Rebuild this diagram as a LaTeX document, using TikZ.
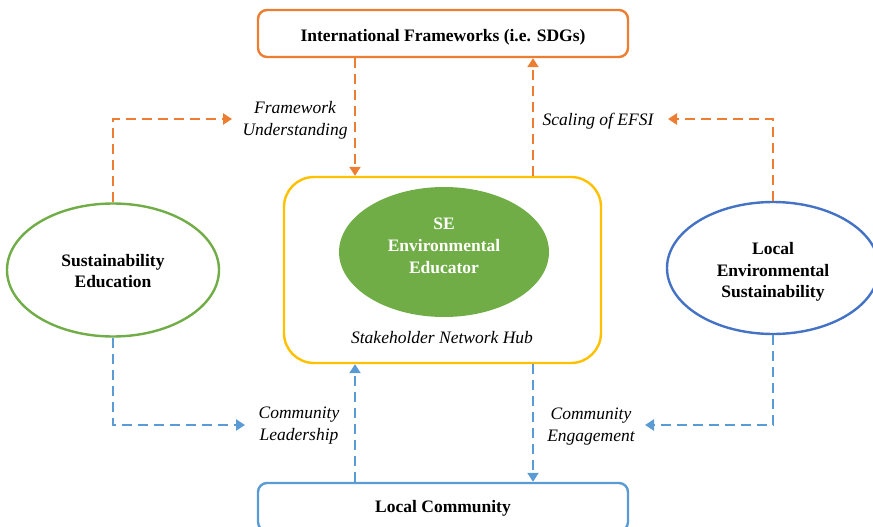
\documentclass[tikz,border=0pt]{standalone}
\usepackage{fontspec}
\setmainfont{Liberation Serif}
\usetikzlibrary{shapes.geometric,arrows.meta,calc}
\definecolor{orng}{HTML}{ED7D31}
\definecolor{ylw}{HTML}{FFC000}
\definecolor{grn}{HTML}{70AD47}
\definecolor{dblu}{HTML}{4472C4}
\definecolor{lblu}{HTML}{5B9BD5}
\tikzset{
  fbox/.style={draw, line width=2.4pt, rounded corners=9pt, fill=white},
  ell/.style={ellipse, draw, line width=2.4pt},
  btxt/.style={font=\fontsize{17.5}{21.5}\selectfont\bfseries, align=center},
  lab/.style={font=\fontsize{17.5}{22}\selectfont\itshape, align=center},
  darr/.style={line width=2.5pt, dash pattern=on 10pt off 6pt, -{Triangle[width=11pt,length=9pt]}},
}
\begin{document}
\begin{tikzpicture}[x=1pt,y=-1pt]
\useasboundingbox (0,0) rectangle (873,527);
% boxes
\node[fbox, draw=orng, minimum width=370, minimum height=47] (tb) at (443,33.5) {};
\node[btxt] (tbt) at (443,37) {International Frameworks (i.e. SDGs)};
\node[fbox, draw=lblu, minimum width=370, minimum height=48] (bb) at (443,507) {};
\node[btxt] (bbt) at (443,508.5) {Local Community};
\node[draw=ylw, line width=2.4pt, rounded corners=30pt, minimum width=317, minimum height=186] (hub) at (442.5,270) {};
\node[ellipse, fill=grn, minimum width=210, minimum height=130] (se) at (444,252) {};
\node[btxt, text=white, font=\fontsize{17.5}{22}\selectfont\bfseries] (set) at (444,246) {SE\\Environmental\\Educator};
\node[lab] (hubl) at (442,338) {Stakeholder Network Hub};
\node[ell, draw=grn, minimum width=212, minimum height=133] (le) at (113,270) {};
\node[btxt] (let) at (113,271) {Sustainability\\Education};
\node[ell, draw=dblu, minimum width=212, minimum height=132] (re) at (773,268) {};
\node[btxt] (ret) at (773,272) {Local\\Environmental\\Sustainability};
% labels
\node[lab] (fu) at (295,120) {Framework\\Understanding};
\node[lab] (sc) at (598,121) {Scaling of EFSI};
\node[lab] (cl) at (299,426) {Community\\Leadership};
\node[lab] (ce) at (591,427) {Community\\Engagement};
% coordinates
\coordinate (xa) at (355,0);
\coordinate (xb) at (533,0);
\coordinate (fuend) at (232,119);
\coordinate (scend) at (668,119);
\coordinate (clend) at (245,425);
\coordinate (ceend) at (645,425);
% connectors
\draw[darr, orng] (tb.south -| xa) -- (hub.north -| xa);
\draw[darr, orng] (hub.north -| xb) -- (tb.south -| xb);
\draw[darr, lblu] (bb.north -| xa) -- (hub.south -| xa);
\draw[darr, lblu] (hub.south -| xb) -- (bb.north -| xb);
\draw[darr, orng] (le.north) |- (fuend);
\draw[darr, orng] (re.north) |- (scend);
\draw[darr, lblu] (le.south) |- (clend);
\draw[darr, lblu] (re.south) |- (ceend);
\end{tikzpicture}
\end{document}
